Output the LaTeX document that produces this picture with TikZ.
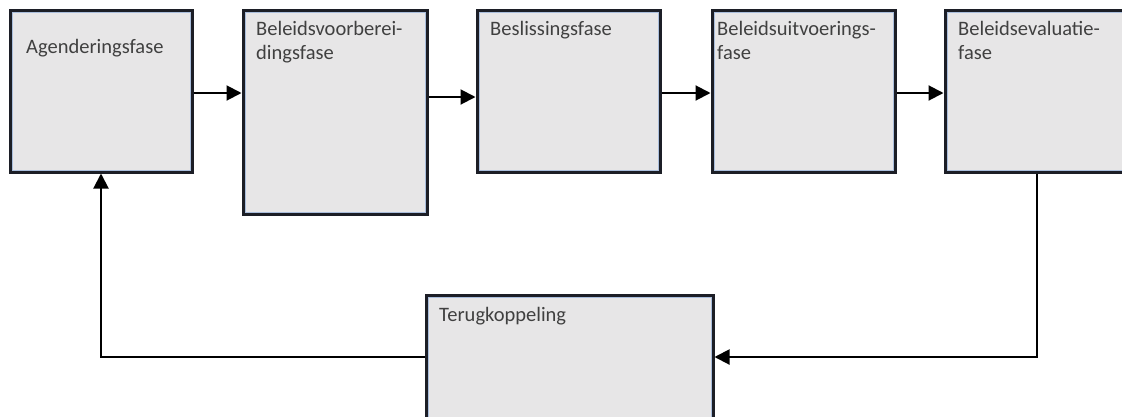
\documentclass[tikz,border=0pt]{standalone}
\usepackage{fontspec}
\setmainfont{Carlito}
\usetikzlibrary{positioning, arrows.meta}
\definecolor{boxfill}{RGB}{231, 230, 231}
\definecolor{boxedge}{RGB}{28, 30, 38}
\definecolor{boxinner}{RGB}{170, 190, 220}
\definecolor{boxtext}{RGB}{64, 64, 64}
\tikzset{
    phasebox/.style={
        draw=boxedge,
        fill=boxfill,
        line width=3pt,
        inner sep=0pt,
        path picture={
            \draw[boxinner, line width=5pt]
                (path picture bounding box.south west) rectangle
                (path picture bounding box.north east);
        }
    },
    phasetext/.style={
        anchor=north west,
        align=left,
        inner sep=0pt,
        text=boxtext,
        font=\fontsize{20.5}{24}\selectfont
    },
    flow/.style={
        -{Triangle[length=15pt,width=15pt]},
        line width=2pt,
        black
    }
}

\begin{document}
\begin{tikzpicture}[x=1pt, y=-1pt]

\useasboundingbox (0,0) rectangle (1122,416);
\clip (0,0) rectangle (1122,416);
\fill[white] (0,0) rectangle (1122,416);

% ---------------------------------------------------------
% Phases
% ---------------------------------------------------------

% Phase 1
\node[phasebox, minimum width=182pt, minimum height=162pt] (agenda) at (101,91) {};
\node[phasetext] (agendatxt) at (26,39) {Agenderingsfase};

% Phase 2
\node[phasebox, minimum width=184pt, minimum height=204pt] (voorb) at (335,112) {};
\node[phasetext] (voorbtxt) at (256,21) {Beleidsvoorberei-\\dingsfase};

% Phase 3
\node[phasebox, minimum width=183pt, minimum height=162pt] (beslis) at (568.5,91) {};
\node[phasetext] (beslistxt) at (490,21) {Beslissingsfase};

% Phase 4
\node[phasebox, minimum width=183pt, minimum height=162pt] (uitvoer) at (803.5,91) {};
\node[phasetext] (uitvoertxt) at (717,21) {Beleidsuitvoerings-\\fase};

% Phase 5
\node[phasebox, minimum width=190pt, minimum height=162pt] (eval) at (1040,91) {};
\node[phasetext] (evaltxt) at (958,21) {Beleidsevaluatie-\\fase};

% Feedback
\node[phasebox, minimum width=287pt, minimum height=150pt] (terug) at (569.5,370) {};
\node[phasetext] (terugtxt) at (439,307) {Terugkoppeling};

% ---------------------------------------------------------
% Arrows
% ---------------------------------------------------------

\coordinate (in2) at ([yshift=-2pt]voorb.west |- agenda.east);
\coordinate (in3) at ([yshift=-6pt]beslis.west);
\coordinate (in4) at ([yshift=-2pt]uitvoer.west);
\coordinate (in5) at ([yshift=-2pt]eval.west);

\draw[flow] (agenda.east |- in2) -- (in2);
\draw[flow] (voorb.east |- in3) -- (in3);
\draw[flow] (beslis.east |- in4) -- (in4);
\draw[flow] (uitvoer.east |- in5) -- (in5);

% feedback loop
\coordinate (fbin) at ([yshift=13pt]terug.east);
\coordinate (fbout) at ([yshift=13pt]terug.west);
\draw[flow] ([xshift=-3pt]eval.south) |- (fbin);
\draw[flow] (fbout) -| (agenda.south);

\end{tikzpicture}
\end{document}
